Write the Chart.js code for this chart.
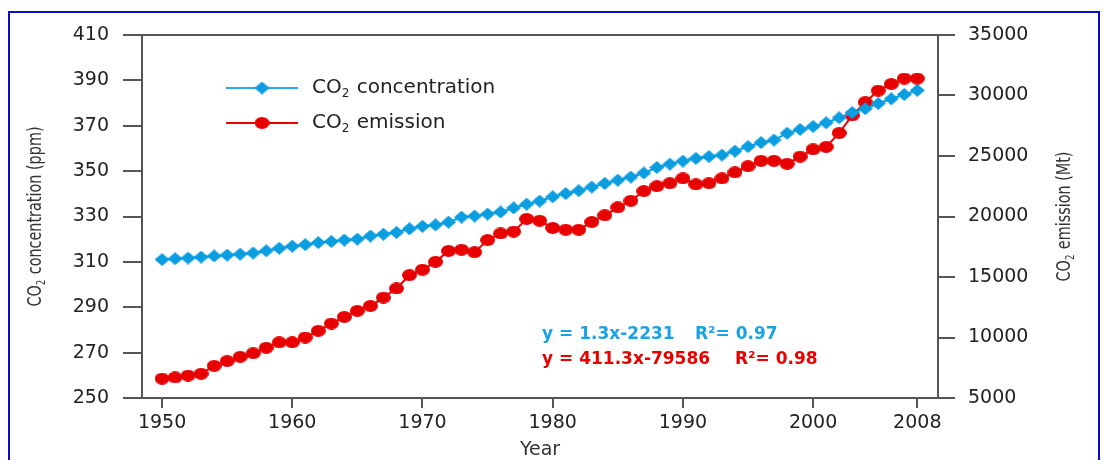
<!DOCTYPE html>
<html>
<head>
<meta charset="utf-8">
<script src="https://cdn.jsdelivr.net/npm/chart.js@4/dist/chart.umd.min.js"></script>
<style>
  html, body { margin: 0; padding: 0; background: #fff; }
  #wrap { position: relative; width: 1103px; height: 460px; overflow: hidden; }
  #frame { position: absolute; left: 8px; top: 11px; width: 1088px; height: 470px; border: 2px solid #0b0bc8; }
  #chart { position: absolute; left: 0; top: 0; }
</style>
</head>
<body>
<div id="wrap">
  <div id="frame"></div>
  <canvas id="chart" width="1103" height="460"></canvas>
</div>
<script>
const years = [1950, 1951, 1952, 1953, 1954, 1955, 1956, 1957, 1958, 1959,
  1960, 1961, 1962, 1963, 1964, 1965, 1966, 1967, 1968, 1969,
  1970, 1971, 1972, 1973, 1974, 1975, 1976, 1977, 1978, 1979,
  1980, 1981, 1982, 1983, 1984, 1985, 1986, 1987, 1988, 1989,
  1990, 1991, 1992, 1993, 1994, 1995, 1996, 1997, 1998, 1999,
  2000, 2001, 2002, 2003, 2004, 2005, 2006, 2007, 2008];

// CO2 concentration (ppm), left axis
const concentration = [311.0, 311.4, 311.7, 312.1, 312.6, 313.0, 313.4, 313.9, 314.9, 316.0,
  316.9, 317.6, 318.5, 319.0, 319.6, 320.0, 321.4, 322.2, 323.0, 324.6,
  325.7, 326.3, 327.5, 329.7, 330.2, 331.1, 332.0, 333.8, 335.4, 336.8,
  338.7, 340.1, 341.4, 343.0, 344.6, 346.0, 347.4, 349.2, 351.6, 353.1,
  354.4, 355.6, 356.4, 357.1, 358.8, 360.8, 362.6, 363.7, 366.7, 368.4,
  369.7, 371.3, 373.5, 375.8, 377.5, 379.8, 381.9, 383.8, 385.6];

// CO2 emission (Mt), right axis
const emission = [6600, 6700, 6850, 7000, 7650, 8050, 8400, 8700, 9150, 9600,
  9600, 10000, 10550, 11150, 11700, 12200, 12600, 13300, 14050, 15150,
  15600, 16250, 17150, 17250, 17050, 18050, 18600, 18750, 19800, 19650,
  19050, 18900, 18900, 19550, 20100, 20750, 21300, 22100, 22500, 22750,
  23150, 22650, 22750, 23150, 23650, 24150, 24600, 24600, 24350, 24950,
  25550, 25750, 26900, 28350, 29450, 30400, 30950, 31400, 31400];

const xTicks = [1950, 1960, 1970, 1980, 1990, 2000, 2008];
const seriesLabels = ['CO2 concentration', 'CO2 emission'];
const axisTitles = { left: 'CO2 concentration (ppm)', right: 'CO2 emission (Mt)', bottom: 'Year' };
const trendLines = [
  ['y = 1.3x-2231', 'R\u00B2= 0.97'],
  ['y = 411.3x-79586', 'R\u00B2= 0.98']
];

const blue = '#0a9de0';
const red = '#e80000';
const axisColor = '#555';
const tickFont = { family: 'DejaVu Sans', size: 19 };

function makeMarker(w, h, color, shape) {
  const c = document.createElement('canvas');
  c.width = w; c.height = h;
  const g = c.getContext('2d');
  g.fillStyle = color;
  g.beginPath();
  if (shape === 'diamond') {
    g.moveTo(w / 2, 0); g.lineTo(w, h / 2); g.lineTo(w / 2, h); g.lineTo(0, h / 2);
  } else {
    g.ellipse(w / 2, h / 2, w / 2, h / 2, 0, 0, Math.PI * 2);
  }
  g.closePath();
  g.fill();
  return c;
}

const diamond = makeMarker(15, 13, blue, 'diamond');
const dot = makeMarker(15, 12, red, 'ellipse');

// draws "CO2 ..." with the 2 as subscript
function drawSub(ctx, text, x, y, size, weight, family) {
  const parts = text.split(/(?<=CO)(2)/);
  let cx = x;
  parts.forEach((p, i) => {
    const isSub = p === '2' && i % 2 === 1;
    ctx.font = `${weight} ${isSub ? Math.round(size * 0.6) : size}px ${family}`;
    ctx.fillText(p, cx, isSub ? y + size * 0.3 : y);
    cx += ctx.measureText(p).width + (isSub ? 1 : 0);
  });
  return cx - x;
}

function subWidth(ctx, text, size, weight, family) {
  ctx.save();
  const parts = text.split(/(?<=CO)(2)/);
  let w = 0;
  parts.forEach((p, i) => {
    const isSub = p === '2' && i % 2 === 1;
    ctx.font = `${weight} ${isSub ? Math.round(size * 0.6) : size}px ${family}`;
    w += ctx.measureText(p).width + (isSub ? 1 : 0);
  });
  ctx.restore();
  return w;
}

// rotated, horizontally squeezed title (the original uses a condensed face)
function sideTitle(ctx, text, cx, cy) {
  const fam = '"DejaVu Sans Condensed", "DejaVu Sans", sans-serif';
  const w = subWidth(ctx, text, 20, 'normal', fam);
  ctx.save();
  ctx.translate(cx, cy);
  ctx.rotate(-Math.PI / 2);
  ctx.scale(0.8, 1);
  drawSub(ctx, text, -w / 2, 0, 20, 'normal', fam);
  ctx.restore();
}

const decor = {
  id: 'decor',
  afterDraw(chart) {
    const ctx = chart.ctx;
    const a = chart.chartArea;
    ctx.save();
    // top border of the plot box
    ctx.strokeStyle = axisColor;
    ctx.lineWidth = 2;
    ctx.beginPath();
    ctx.moveTo(a.left, a.top);
    ctx.lineTo(a.right, a.top);
    ctx.stroke();

    // axis titles
    ctx.fillStyle = '#333';
    ctx.textBaseline = 'middle';
    const midY = (a.top + a.bottom) / 2;
    sideTitle(ctx, axisTitles.left, 36, midY);
    sideTitle(ctx, axisTitles.right, 1065, midY);
    ctx.font = '19px "DejaVu Sans"';
    ctx.textAlign = 'center';
    ctx.fillText(axisTitles.bottom, (a.left + a.right) / 2, 450);
    ctx.textAlign = 'left';

    // legend
    const marks = [diamond, dot];
    const lineCols = ['#2aa8ec', red];
    [88, 123].forEach((ly, i) => {
      ctx.strokeStyle = lineCols[i];
      ctx.lineWidth = 2;
      ctx.beginPath();
      ctx.moveTo(226, ly);
      ctx.lineTo(298, ly);
      ctx.stroke();
      ctx.drawImage(marks[i], 262 - marks[i].width / 2, ly - marks[i].height / 2);
      ctx.fillStyle = '#222';
      drawSub(ctx, seriesLabels[i], 312, ly, 20, 'normal', '"DejaVu Sans"');
    });

    // trend equations
    const eqCols = ['#1aa2e6', red];
    const rx = [695, 735];
    [335, 360].forEach((ey, i) => {
      ctx.fillStyle = eqCols[i];
      ctx.font = 'bold 17px "DejaVu Sans"';
      ctx.fillText(trendLines[i][0], 542, ey);
      ctx.fillText(trendLines[i][1], rx[i], ey);
    });
    ctx.restore();
  }
};

new Chart(document.getElementById('chart'), {
  type: 'line',
  data: {
    datasets: [{
      label: seriesLabels[0],
      data: years.map((yr, i) => ({ x: yr, y: concentration[i] })),
      yAxisID: 'y',
      borderColor: blue,
      borderWidth: 2,
      pointStyle: diamond,
      pointRadius: 7,
      tension: 0
    }, {
      label: seriesLabels[1],
      data: years.map((yr, i) => ({ x: yr, y: emission[i] })),
      yAxisID: 'y1',
      borderColor: red,
      borderWidth: 2,
      pointStyle: dot,
      pointRadius: 7,
      tension: 0
    }]
  },
  options: {
    responsive: false,
    animation: false,
    layout: { padding: { top: 35, left: 0, right: 0, bottom: 0 } },
    plugins: { legend: { display: false }, tooltip: { enabled: false } },
    scales: {
      x: {
        type: 'linear',
        min: 1948.46,
        max: 2009.59,
        afterBuildTicks: s => { s.ticks = xTicks.map(v => ({ value: v })); },
        afterFit: s => { s.height = 62; },
        grid: { drawOnChartArea: false, tickLength: 10, color: axisColor, lineWidth: 2 },
        border: { color: axisColor, width: 2 },
        ticks: { font: tickFont, color: '#222', padding: 4, maxRotation: 0, autoSkip: false, callback: v => String(v) }
      },
      y: {
        position: 'left',
        min: 250,
        max: 410,
        afterFit: s => { s.width = 142; },
        grid: { drawOnChartArea: false, tickLength: 19, color: axisColor, lineWidth: 2 },
        border: { color: axisColor, width: 2 },
        ticks: { stepSize: 20, font: tickFont, color: '#222', padding: 14, callback: v => String(v) }
      },
      y1: {
        position: 'right',
        min: 5000,
        max: 35000,
        afterFit: s => { s.width = 165; },
        grid: { drawOnChartArea: false, tickLength: 17, color: axisColor, lineWidth: 2 },
        border: { color: axisColor, width: 2 },
        ticks: { stepSize: 5000, font: tickFont, color: '#222', padding: 13, callback: v => String(v) }
      }
    }
  },
  plugins: [decor]
});
</script>
</body>
</html>
